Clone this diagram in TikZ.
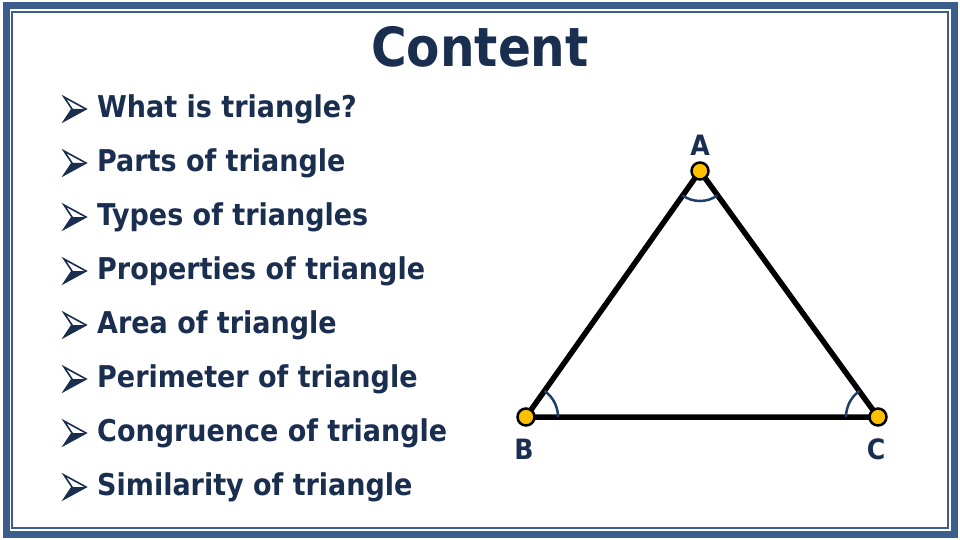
\documentclass[tikz,border=0pt]{standalone}
\usepackage{fontspec}
\setmainfont{DejaVu Sans Condensed}
\begin{document}
\begin{tikzpicture}[x=1pt,y=-1pt,
  item/.style={anchor=west,inner sep=0pt,text=navy,font=\fontsize{30}{32}\selectfont\bfseries},
  lbl/.style={text=navy,font=\fontsize{28}{30}\selectfont\bfseries},
  vdot/.style={circle,fill=gold,draw=black,line width=2.5pt,minimum size=17pt,inner sep=0pt}]
\definecolor{navy}{HTML}{1A2E4F}
\definecolor{frame}{HTML}{3B5E8C}
\definecolor{gold}{HTML}{FFC000}
\definecolor{arcc}{HTML}{1F3F6A}
\useasboundingbox (0,0) rectangle (960,540);
\fill[white] (0,0) rectangle (960,540);
\draw[frame,line width=7pt] (6,6) rectangle (954,534);
\draw[frame,line width=1.5pt] (12,12) rectangle (948,528);
\node[text=navy,font=\fontsize{54}{58}\selectfont\bfseries] (title) at (480,47) {Content};
\foreach \t [count=\i from 0] in {What is triangle?,Parts of triangle,Types of triangles,Properties of triangle,Area of triangle,Perimeter of triangle,Congruence of triangle,Similarity of triangle}{
  \pgfmathsetmacro\yy{109+54*\i}
  \begin{scope}[shift={(64,\yy)}]
    \fill[navy] (0,12) -- (22,0) -- (8,0) -- cycle;
    \draw[navy,line width=1.6pt,line join=miter] (0,-12) -- (22,0) -- (0,12) -- (8,0) -- cycle;
  \end{scope}
  \node[item] (it\i) at (97,\yy) {\t};
}
\coordinate (A) at (700,171);
\coordinate (B) at (526,417);
\coordinate (C) at (878,417);
\draw[black,line width=5.5pt,line join=round] (A) -- (B) -- (C) -- cycle;
\draw[arcc,line width=2.5pt] (A) ++(54.7:30) arc (54.7:125.3:30);
\draw[arcc,line width=2.5pt] (B) ++(0:32) arc (0:-54.7:32);
\draw[arcc,line width=2.5pt] (C) ++(180:32) arc (180:234.7:32);
\node[vdot] (dA) at (A) {};
\node[vdot] (dB) at (B) {};
\node[vdot] (dC) at (C) {};
\node[lbl] (lA) at (700,145) {A};
\node[lbl] (lB) at (524,449) {B};
\node[lbl] (lC) at (876,449) {C};
\end{tikzpicture}
\end{document}
